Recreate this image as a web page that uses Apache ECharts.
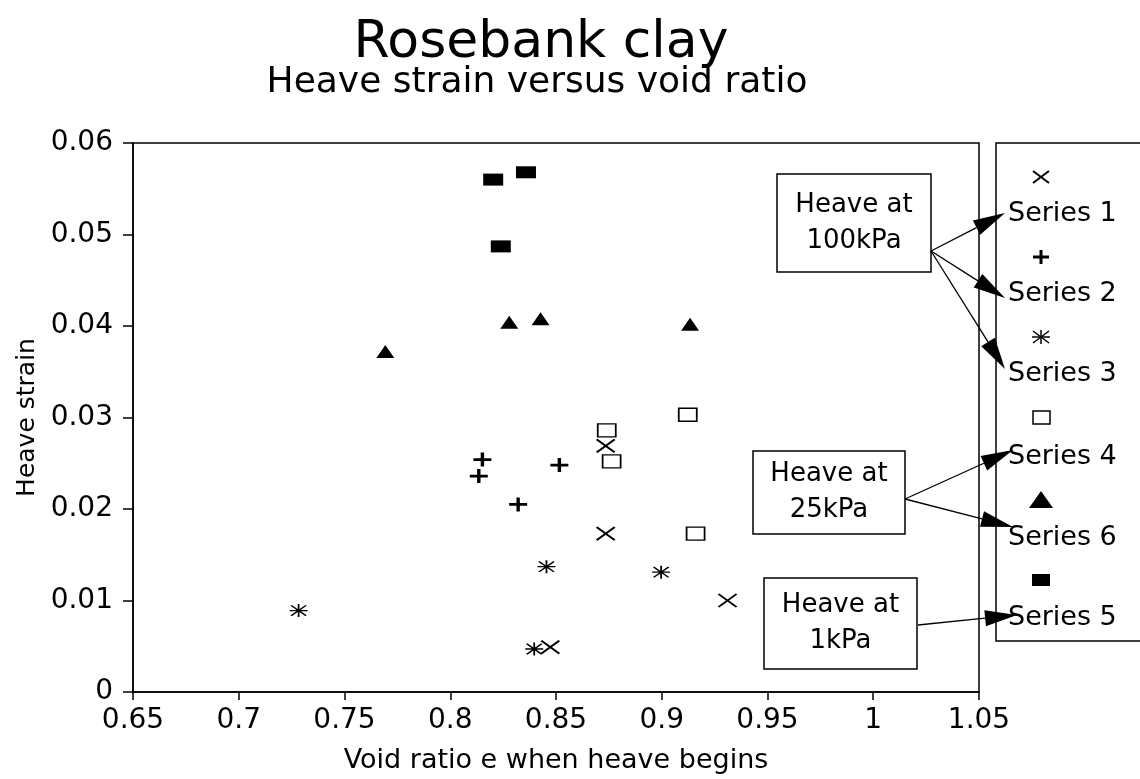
<!DOCTYPE html>
<html lang="en">
<head>
	<meta charset="UTF-8">
	<title>Rosebank clay</title>
	<style>
		html, body { margin: 0; padding: 0; background: #fff; }
		#main { width: 1140px; height: 779px; }
	</style>
</head>
<body>
	<div id="main"></div>
	<script type="text/javascript" src="https://cdn.jsdelivr.net/npm/echarts@6/dist/echarts.min.js"></script>
	<script type="text/javascript">
	// 数据：[void ratio, heave strain]
	var series1 = [[0.8735, 0.0269], [0.8735, 0.0173], [0.9311, 0.0100], [0.8473, 0.0049]];
	var series2 = [[0.8152, 0.0254], [0.8135, 0.0236], [0.8516, 0.0248], [0.8321, 0.0205]];
	var series3 = [[0.7283, 0.0089], [0.8455, 0.0137], [0.8997, 0.0131], [0.8397, 0.0047]];
	var series4 = [[0.8740, 0.0286], [0.8763, 0.0252], [0.9123, 0.0303], [0.9160, 0.0173]];
	var series5 = [[0.8203, 0.0560], [0.8358, 0.0568], [0.8239, 0.0487]];
	var series6 = [[0.7693, 0.0372], [0.8279, 0.0404], [0.8427, 0.0408], [0.9134, 0.0402]];
	var legendNames = ['Series 1', 'Series 2', 'Series 3', 'Series 4', 'Series 6', 'Series 5'];
	var notes = [['Heave at', '100kPa'], ['Heave at', '25kPa'], ['Heave at', '1kPa']];

	var FONT = 'DejaVu Sans';
	var pathX = 'path://M0,0L10,10M10,0L0,10';
	var pathPlus = 'path://M5,0L5,10M0,5L10,5';
	var pathStar = 'path://M0,5L12,5M6,0L6,10M1,1L11,9M11,1L1,9';
	var lineStyleItem = function(w) {
		return { color: 'rgba(0,0,0,0)', borderColor: '#000', borderWidth: w, opacity: 1 };
	};

	var myChart = echarts.init(document.getElementById('main'));

	var graphics = [];
	function txt(x, y, s, size, align) {
		graphics.push({ type: 'text', x: x, y: y, style: { text: s, fontFamily: FONT, fontSize: size, fill: '#000', textAlign: align || 'center', textVerticalAlign: 'middle' } });
	}
	function seg(x1, y1, x2, y2, w) {
		graphics.push({ type: 'line', shape: { x1: x1, y1: y1, x2: x2, y2: y2 }, style: { stroke: '#000', lineWidth: w } });
	}

	// 标题
	txt(541, 43, 'Rosebank clay', 52);
	txt(537, 83, 'Heave strain versus void ratio', 36);

	// 图例框
	graphics.push({ type: 'rect', shape: { x: 996, y: 143, width: 160, height: 498 }, style: { fill: 'none', stroke: '#000', lineWidth: 1.5 } });
	var legendSymY = [177, 257, 337, 417, 500, 580];
	var legendTxtY = [214, 294, 374, 457, 538, 618];
	for (var i = 0; i < legendNames.length; i++) {
		txt(1008, legendTxtY[i], legendNames[i], 27, 'left');
	}
	var sx = 1041;
	seg(sx - 8, legendSymY[0] - 6, sx + 8, legendSymY[0] + 6, 2);
	seg(sx + 8, legendSymY[0] - 6, sx - 8, legendSymY[0] + 6, 2);
	seg(sx, legendSymY[1] - 7, sx, legendSymY[1] + 7, 3);
	seg(sx - 8, legendSymY[1], sx + 8, legendSymY[1], 3);
	seg(sx - 9, legendSymY[2], sx + 9, legendSymY[2], 1.5);
	seg(sx, legendSymY[2] - 7, sx, legendSymY[2] + 7, 1.5);
	seg(sx - 8, legendSymY[2] - 6, sx + 8, legendSymY[2] + 6, 1.5);
	seg(sx + 8, legendSymY[2] - 6, sx - 8, legendSymY[2] + 6, 1.5);
	graphics.push({ type: 'rect', shape: { x: sx - 8, y: legendSymY[3] - 6, width: 17, height: 13 }, style: { fill: 'none', stroke: '#000', lineWidth: 1.5 } });
	graphics.push({ type: 'polygon', shape: { points: [[sx, legendSymY[4] - 9], [sx - 12, legendSymY[4] + 8], [sx + 12, legendSymY[4] + 8]] }, style: { fill: '#000' } });
	graphics.push({ type: 'rect', shape: { x: sx - 9, y: legendSymY[5] - 6, width: 18, height: 12 }, style: { fill: '#000' } });

	// 注释框
	var boxes = [[777, 174, 154, 98], [753, 451, 152, 83], [764, 578, 153, 91]];
	for (var b = 0; b < boxes.length; b++) {
		var bx = boxes[b];
		graphics.push({ type: 'rect', shape: { x: bx[0], y: bx[1], width: bx[2], height: bx[3] }, style: { fill: '#fff', stroke: '#000', lineWidth: 1.5 } });
		txt(bx[0] + bx[2] / 2, bx[1] + bx[3] / 2 - 18, notes[b][0], 26);
		txt(bx[0] + bx[2] / 2, bx[1] + bx[3] / 2 + 18, notes[b][1], 26);
	}

	// 箭头
	var arrows = [
		[931, 251, 1005, 213], [931, 251, 1005, 298], [931, 251, 1005, 369],
		[905, 499, 1013, 450], [905, 499, 1013, 527],
		[918, 625, 1017, 615]
	];
	for (var a = 0; a < arrows.length; a++) {
		var ar = arrows[a];
		var dx = ar[2] - ar[0], dy = ar[3] - ar[1];
		var len = Math.sqrt(dx * dx + dy * dy);
		var ux = dx / len, uy = dy / len;
		var hl = 32, hw = 8;
		var bxp = ar[2] - ux * hl, byp = ar[3] - uy * hl;
		seg(ar[0], ar[1], bxp, byp, 1.3);
		graphics.push({ type: 'polygon', shape: { points: [[ar[2], ar[3]], [bxp - uy * hw, byp + ux * hw], [bxp + uy * hw, byp - ux * hw]] }, style: { fill: '#000' } });
	}

	var option = {
		animation: false,
		backgroundColor: '#fff',
		grid: { left: 133, right: 161, top: 143, bottom: 85, show: true, borderColor: '#000', borderWidth: 1.5, backgroundColor: 'transparent' },
		xAxis: {
			type: 'value', min: 0.65, max: 1.05, interval: 0.05,
			name: 'Void ratio e when heave begins', nameLocation: 'middle', nameGap: 55,
			nameTextStyle: { fontFamily: FONT, fontSize: 27, color: '#000' },
			axisLine: { lineStyle: { color: '#000', width: 1.5 } },
			axisTick: { show: true, length: 8, lineStyle: { color: '#000', width: 1.5 } },
			axisLabel: { fontFamily: FONT, fontSize: 28, color: '#000', margin: 15 },
			splitLine: { show: false }
		},
		yAxis: {
			type: 'value', min: 0, max: 0.06, interval: 0.01,
			name: 'Heave strain', nameLocation: 'middle', nameGap: 92,
			nameTextStyle: { fontFamily: FONT, fontSize: 25, color: '#000' },
			axisLine: { lineStyle: { color: '#000', width: 1.5 } },
			axisTick: { show: true, length: 10, lineStyle: { color: '#000', width: 1.5 } },
			axisLabel: { fontFamily: FONT, fontSize: 28, color: '#000', margin: 20 },
			splitLine: { show: false }
		},
		series: [
			{ name: 'Series 1', type: 'scatter', data: series1, symbol: pathX, symbolSize: [18, 13], itemStyle: lineStyleItem(2) },
			{ name: 'Series 2', type: 'scatter', data: series2, symbol: pathPlus, symbolSize: [18, 14], itemStyle: lineStyleItem(3) },
			{ name: 'Series 3', type: 'scatter', data: series3, symbol: pathStar, symbolSize: [18, 13], itemStyle: lineStyleItem(1.5) },
			{ name: 'Series 4', type: 'scatter', data: series4, symbol: 'rect', symbolSize: [18, 13], itemStyle: lineStyleItem(1.5) },
			{ name: 'Series 5', type: 'scatter', data: series5, symbol: 'rect', symbolSize: [20, 12], itemStyle: { color: '#000', opacity: 1 } },
			{ name: 'Series 6', type: 'scatter', data: series6, symbol: 'triangle', symbolSize: [18, 13], itemStyle: { color: '#000', opacity: 1 } }
		],
		graphic: graphics
	};
	myChart.setOption(option);
	</script>
</body>
</html>
